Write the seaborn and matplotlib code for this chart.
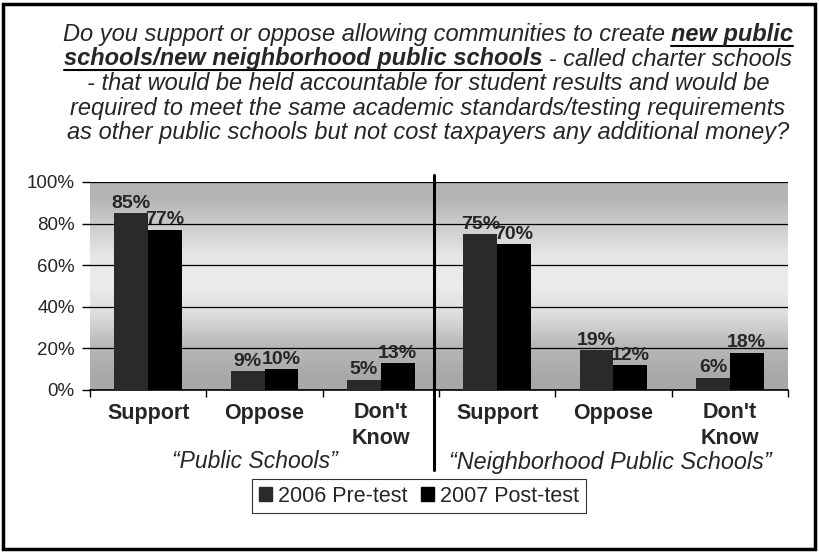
import numpy as np
import pandas as pd
import matplotlib
matplotlib.use("Agg")
import matplotlib.pyplot as plt
import seaborn as sns
from matplotlib.patches import Rectangle
from matplotlib.lines import Line2D

# ---- data ----
groups = ["Public Schools", "Neighborhood Public Schools"]
responses = ["Support", "Oppose", "Don't\nKnow"]
series = ["2006 Pre-test", "2007 Post-test"]
pre_2006 = [85, 9, 5, 75, 19, 6]
post_2007 = [77, 10, 13, 70, 12, 18]
group_labels = ["\u201cPublic Schools\u201d", "\u201cNeighborhood Public Schools\u201d"]

cats = [f"{g}|{r}" for g in groups for r in responses]
tick_labels = [r for g in groups for r in responses]
df = pd.DataFrame({
    "cat": cats * 2,
    "series": [series[0]] * 6 + [series[1]] * 6,
    "value": pre_2006 + post_2007,
})

sns.set_theme(style="white")
FONT = ["Liberation Sans", "DejaVu Sans"]
plt.rcParams["font.family"] = FONT

W, H = 819, 552
fig = plt.figure(figsize=(W / 100, H / 100), dpi=100)
fig.patch.set_facecolor("white")
ax = fig.add_axes([90 / W, 1 - 390 / H, (788 - 90) / W, (390 - 182) / H])

# background gradient (textured gray in the original)
grad = np.array([0.66, 0.72, 0.86, 0.92, 0.90, 0.80, 0.70])[:, None]
ax.imshow(grad, cmap="gray", vmin=0, vmax=1, aspect="auto",
          extent=[-0.5, 5.5, 0, 100], origin="lower", zorder=0,
          interpolation="bilinear")

palette = {series[0]: "#2a2a2a", series[1]: "#000000"}
sns.barplot(data=df, x="cat", y="value", hue="series", order=cats,
            hue_order=series, palette=palette, width=0.58, gap=0,
            saturation=1, ax=ax, zorder=3, legend=False, edgecolor="none")

ax.set_xlim(-0.5, 5.5)
ax.set_ylim(0, 100)
ax.set_yticks([0, 20, 40, 60, 80, 100])
ax.set_yticklabels([f"{v}%" for v in range(0, 101, 20)], fontsize=13.5)
ax.yaxis.grid(True, color="black", linewidth=0.9, zorder=1)
for ln in ax.get_ygridlines():
    ln.set_zorder(1)
ax.set_xticks(range(6))
ax.set_xticklabels(tick_labels, fontsize=15.5, fontweight="bold", linespacing=1.3)
ax.tick_params(axis="x", length=0, pad=9)
ax.tick_params(axis="y", length=6, left=True, width=1, color="black", pad=5)
# category boundary ticks
ax.set_xticks([i + 0.5 for i in range(-1, 6)], minor=True)
ax.tick_params(axis="x", which="minor", length=5, bottom=True, color="black", width=1)
ax.set_xlabel("")
ax.set_ylabel("")
for s in ["top", "right", "left"]:
    ax.spines[s].set_visible(False)
ax.spines["bottom"].set_color("black")
ax.spines["bottom"].set_linewidth(1.2)

# value labels
for cont in ax.containers:
    ax.bar_label(cont, labels=[f"{int(v)}%" for v in cont.datavalues],
                 fontsize=14, fontweight="bold", padding=1, zorder=5)

# divider
ax.axvline(2.46, ymin=-0.385, ymax=1.035, color="black", linewidth=2.2,
           clip_on=False, zorder=6)

# group labels
fig.text(255 / W, 1 - 462 / H, group_labels[0], ha="center", va="center",
         fontsize=16.5, style="italic")
fig.text(610 / W, 1 - 462 / H, group_labels[1], ha="center", va="center",
         fontsize=16.8, style="italic")

# legend
handles = [Rectangle((0, 0), 1, 1, color=palette[s]) for s in series]
leg = fig.legend(handles, series, loc="center", bbox_to_anchor=(419 / W, 1 - 496 / H),
                 ncol=2, fontsize=15.5, frameon=True, fancybox=False,
                 edgecolor="black", handlelength=0.6, handleheight=0.6,
                 handletextpad=0.3, columnspacing=0.6, borderpad=0.3)
leg.get_frame().set_linewidth(0.8)

# title with mixed styles
title_lines = [
    [("Do you support or oppose allowing communities to create ", False), ("new public", True)],
    [("schools/new neighborhood public schools", True), (" - called charter schools", False)],
    [("- that would be held accountable for student results and would be", False)],
    [("required to meet the same academic standards/testing requirements", False)],
    [("as other public schools but not cost taxpayers any additional money?", False)],
]
line_y = [35, 59, 84, 108, 133]
cx = 428
fig.canvas.draw()
renderer = fig.canvas.get_renderer()
tsize = 17
for segs, yy in zip(title_lines, line_y):
    texts = []
    for s, b in segs:
        t = fig.text(0, 1 - yy / H, s, fontsize=tsize, style="italic",
                     fontweight="bold" if b else "normal",
                     ha="left", va="center")
        texts.append((t, b))
    widths = [t.get_window_extent(renderer).width for t, _ in texts]
    x = cx - sum(widths) / 2
    for (t, b), w in zip(texts, widths):
        t.set_x(x / W)
        if b:
            fig.add_artist(Line2D([x / W, (x + w) / W], [1 - (yy + 10.5) / H] * 2,
                                  color="black", linewidth=1.5))
        x += w

# outer border
fig.add_artist(Rectangle((3 / W, 3 / H), (W - 7) / W, (H - 7) / H, fill=False,
                         edgecolor="black", linewidth=2.5, transform=fig.transFigure))

fig.savefig("out.png", dpi=100)
